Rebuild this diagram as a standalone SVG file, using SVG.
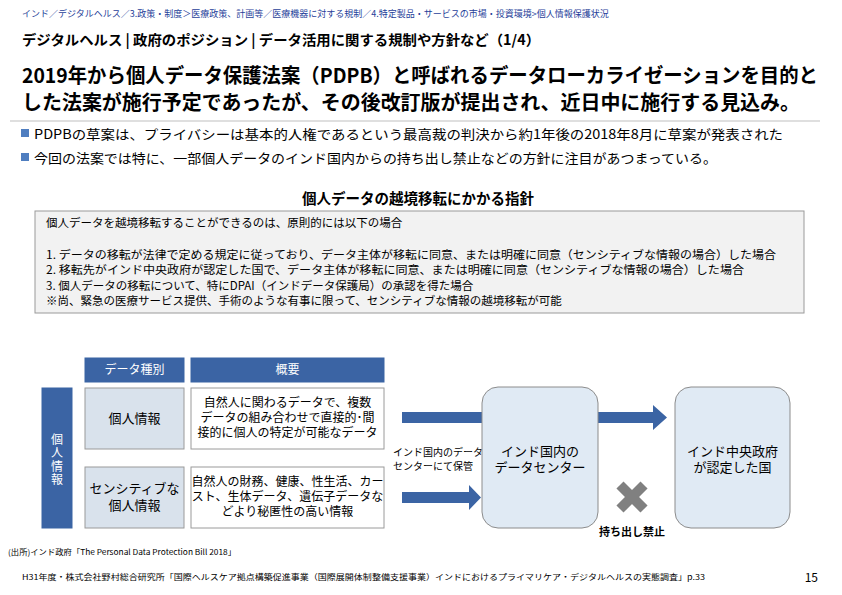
<svg xmlns="http://www.w3.org/2000/svg" width="842" height="595" viewBox="0 0 842 595">
<style>
text{font-family:"Noto Sans CJK JP","Noto Sans",sans-serif;fill:#000}
.crumb{font-size:9px;fill:#1f3f9a}
.ttl{font-size:14px;font-weight:bold}
.head{font-size:20px;font-weight:bold}
.bul{font-size:13px}
.sec{font-size:14.5px;font-weight:bold}
.box{font-size:11.5px}
.hcell{fill:#3b64a4;stroke:#3b64a4}
.hlab{font-size:12px;fill:#fff}
.kcell{fill:#d9e2ec;stroke:#9a9a9a;stroke-width:1}
.dcell{fill:#fff;stroke:#9a9a9a;stroke-width:1}
.ctext{font-size:12px}
.rbox{fill:#e0eaf4;stroke:#8c8c8c;stroke-width:1}
.arrow{fill:#3b64a4}
.foot{font-size:8px}
</style>
<rect width="842" height="595" fill="#fff"/>
<text class="crumb" x="22" y="17">インド／デジタルヘルス／3.政策・制度＞医療政策、計画等／医療機器に対する規制／4.特定製品・サービスの市場・投資環境&gt;個人情報保護状況</text>
<text class="ttl" x="22" y="45" textLength="518" lengthAdjust="spacingAndGlyphs">デジタルヘルス | 政府のポジション | データ活用に関する規制や方針など（1/4）</text>
<text class="head" x="22" y="83" textLength="796" lengthAdjust="spacingAndGlyphs">2019年から個人データ保護法案（PDPB）と呼ばれるデータローカライゼーションを目的と</text>
<text class="head" x="22" y="110" textLength="778" lengthAdjust="spacingAndGlyphs">した法案が施行予定であったが、その後改訂版が提出され、近日中に施行する見込み。</text>
<line x1="10" y1="121" x2="820" y2="121" stroke="#d4d4d4" stroke-width="1.5"/>
<rect x="21" y="129" width="8" height="8" fill="#4f7ec0"/>
<text class="bul" x="34" y="139" textLength="749" lengthAdjust="spacingAndGlyphs">PDPBの草案は、プライバシーは基本的人権であるという最高裁の判決から約1年後の2018年8月に草案が発表された</text>
<rect x="21" y="153" width="8" height="8" fill="#4f7ec0"/>
<text class="bul" x="34" y="163" textLength="683" lengthAdjust="spacingAndGlyphs">今回の法案では特に、一部個人データのインド国内からの持ち出し禁止などの方針に注目があつまっている。</text>
<text class="sec" x="418" y="204" text-anchor="middle">個人データの越境移転にかかる指針</text>
<g id="guideline">
<rect x="35" y="211" width="769" height="102" fill="#f2f2f2" stroke="#9a9a9a" stroke-width="1"/>
<text class="box" x="46" y="227">個人データを越境移転することができるのは、原則的には以下の場合</text>
<text class="box" x="46" y="259" textLength="730" lengthAdjust="spacingAndGlyphs">1.  データの移転が法律で定める規定に従っており、データ主体が移転に同意、または明確に同意（センシティブな情報の場合）した場合</text>
<text class="box" x="46" y="274" textLength="698" lengthAdjust="spacingAndGlyphs">2.  移転先がインド中央政府が認定した国で、データ主体が移転に同意、または明確に同意（センシティブな情報の場合）した場合</text>
<text class="box" x="46" y="290">3.  個人データの移転について、特にDPAI（インドデータ保護局）の承認を得た場合</text>
<text class="box" x="46" y="305">※尚、緊急の医療サービス提供、手術のような有事に限って、センシティブな情報の越境移転が可能</text>
</g>
<g id="hdr-type"><rect class="hcell" x="85" y="358" width="99" height="24"/><text class="hlab" x="134.5" y="374" text-anchor="middle">データ種別</text></g>
<g id="hdr-summary"><rect class="hcell" x="191" y="358" width="193" height="24"/><text class="hlab" x="287.5" y="374" text-anchor="middle">概要</text></g>
<g id="side-label"><rect class="hcell" x="42" y="388" width="30" height="140"/>
<text class="hlab" x="57" y="460" text-anchor="middle" style="writing-mode:vertical-rl;font-size:12px;letter-spacing:1.5px">個人情報</text></g>
<g id="type-personal"><rect class="kcell" x="85" y="388" width="99" height="61"/><text class="ctext" style="font-size:13px" x="134.5" y="423" text-anchor="middle">個人情報</text></g>
<g id="desc-personal"><rect class="dcell" x="191" y="388" width="193" height="61"/>
<text class="ctext" text-anchor="middle"><tspan x="287.5" y="407">自然人に関わるデータで、複数</tspan><tspan x="287.5" y="422">データの組み合わせで直接的･間</tspan><tspan x="287.5" y="437">接的に個人の特定が可能なデータ</tspan></text></g>
<g id="type-sensitive"><rect class="kcell" x="85" y="467" width="99" height="61"/>
<text class="ctext" style="font-size:13px" text-anchor="middle"><tspan x="134.5" y="493">センシティブな</tspan><tspan x="134.5" y="510">個人情報</tspan></text></g>
<g id="desc-sensitive"><rect class="dcell" x="191" y="467" width="193" height="61"/>
<text class="ctext" text-anchor="middle"><tspan x="287.5" y="486">自然人の財務、健康、性生活、カー</tspan><tspan x="287.5" y="501">スト、生体データ、遺伝子データな</tspan><tspan x="287.5" y="516">どより秘匿性の高い情報</tspan></text></g>
<g id="connectors">
<path class="arrow" d="M402 412 H653 V405 L667 417.5 L653 430 V423 H402 Z"/>
<path class="arrow" d="M402 492 H469 V485 L481 497.5 L469 510 V503 H402 Z"/>
</g>
<g id="label-store"><text style="font-size:10px" x="393" y="456">インド国内のデータ</text><text style="font-size:10px" x="393" y="470">センターにて保管</text></g>
<g id="datacenter"><rect class="rbox" x="482" y="387" width="116" height="141" rx="16"/>
<text style="font-size:13px" text-anchor="middle"><tspan x="540" y="456">インド国内の</tspan><tspan x="540" y="472">データセンター</tspan></text></g>
<g id="country"><rect class="rbox" x="675" y="387" width="115" height="141" rx="16"/>
<text style="font-size:13px" text-anchor="middle"><tspan x="732.5" y="456">インド中央政府</tspan><tspan x="732.5" y="472">が認定した国</tspan></text></g>
<g id="prohibited">
<g transform="translate(632 497)" fill="#808080"><rect x="-17" y="-5" width="34" height="10" transform="rotate(45)"/><rect x="-17" y="-5" width="34" height="10" transform="rotate(-45)"/></g>
<text style="font-size:11px;font-weight:bold" x="632" y="536" text-anchor="middle">持ち出し禁止</text>
</g>
<text class="foot" x="8" y="555" textLength="228" lengthAdjust="spacingAndGlyphs">(出所)インド政府「The Personal Data Protection Bill 2018」</text>
<text class="foot" x="22" y="580" textLength="683" lengthAdjust="spacingAndGlyphs">H31年度・株式会社野村総合研究所「国際ヘルスケア拠点構築促進事業（国際展開体制整備支援事業）インドにおけるプライマリケア・デジタルヘルスの実態調査」p.33</text>
<text style="font-size:12px" x="818" y="582" text-anchor="end">15</text>
</svg>
